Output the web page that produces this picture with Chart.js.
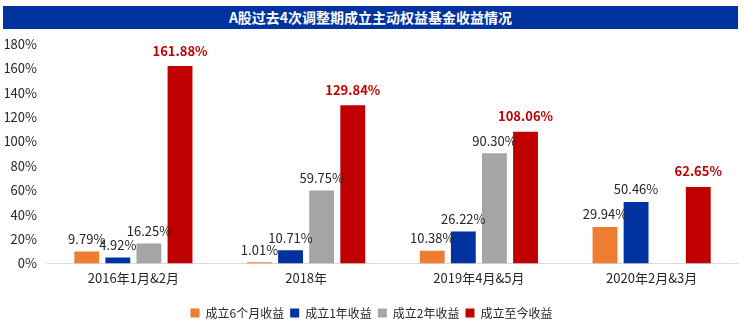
<!DOCTYPE html>
<html>
<head>
<meta charset="utf-8">
<script src="https://cdn.jsdelivr.net/npm/chart.js@4"></script>
<style>
  html, body { margin: 0; padding: 0; background: #fff; }
  #wrap { position: relative; width: 745px; height: 327px; }
  #title {
    position: absolute; left: 3px; top: 6px; width: 735px; height: 23px;
    background: #0033A0; color: #fff; text-align: center;
    font: bold 14px "Noto Sans CJK SC", sans-serif; line-height: 23px;
  }
  #chart { position: absolute; left: 0; top: 0; }
</style>
</head>
<body>
<div id="wrap">
  <canvas id="chart" width="745" height="327"></canvas>
  <div id="title">A股过去4次调整期成立主动权益基金收益情况</div>
</div>
<script>
const categories = ['2016年1月&2月', '2018年', '2019年4月&5月', '2020年2月&3月'];
const seriesNames = ['成立6个月收益', '成立1年收益', '成立2年收益', '成立至今收益'];
const sixMonth = [9.79, 1.01, 10.38, 29.94];
const oneYear = [4.92, 10.71, 26.22, 50.46];
const twoYear = [16.25, 59.75, 90.30, null];
const sinceStart = [161.88, 129.84, 108.06, 62.65];
const yTicks = [0, 20, 40, 60, 80, 100, 120, 140, 160, 180];

const colors = ['#ED7D31', '#0033A0', '#A5A5A5', '#C00000'];
const FONT = '"Noto Sans CJK SC", sans-serif';

// value labels above each bar; the last series is bold red
const barLabels = {
  id: 'barLabels',
  afterDatasetsDraw(chart) {
    const ctx = chart.ctx;
    ctx.save();
    ctx.textAlign = 'center';
    ctx.textBaseline = 'bottom';
    chart.data.datasets.forEach(function (ds, i) {
      const meta = chart.getDatasetMeta(i);
      const last = i === chart.data.datasets.length - 1;
      ctx.font = (last ? 'bold ' : '') + '13px ' + FONT;
      ctx.fillStyle = last ? '#C00000' : '#262626';
      meta.data.forEach(function (bar, j) {
        const v = ds.data[j];
        if (v === null) return;
        ctx.fillText(v.toFixed(2) + '%', bar.x, bar.y - (last ? 9 : 6));
      });
    });
    ctx.restore();
  }
};

new Chart(document.getElementById('chart'), {
  type: 'bar',
  data: {
    labels: categories,
    datasets: [sixMonth, oneYear, twoYear, sinceStart].map(function (vals, i) {
      return {
        label: seriesNames[i],
        data: vals,
        backgroundColor: colors[i],
        categoryPercentage: 0.72,
        barPercentage: 0.8
      };
    })
  },
  options: {
    responsive: false,
    animation: false,
    layout: { padding: { top: 44, left: 5, right: 7, bottom: -2 } },
    plugins: {
      legend: {
        position: 'bottom',
        labels: {
          boxWidth: 9, boxHeight: 9, padding: 6,
          color: '#262626',
          font: { family: FONT, size: 12 }
        }
      },
      tooltip: { enabled: false }
    },
    scales: {
      x: {
        grid: { display: false, drawTicks: false },
        border: { color: '#D9D9D9' },
        ticks: { color: '#262626', padding: 7, font: { family: FONT, size: 13 } },
        afterFit(axis) { axis.height += 8; }
      },
      y: {
        min: 0, max: 180,
        afterBuildTicks(axis) { axis.ticks = yTicks.map(v => ({ value: v })); },
        grid: { display: false, drawTicks: false },
        border: { display: false },
        ticks: {
          color: '#262626', padding: 10,
          font: { family: FONT, size: 13 },
          callback: v => v + '%'
        },
        afterFit(axis) { axis.width = 42; }
      }
    }
  },
  plugins: [barLabels]
});
</script>
</body>
</html>
